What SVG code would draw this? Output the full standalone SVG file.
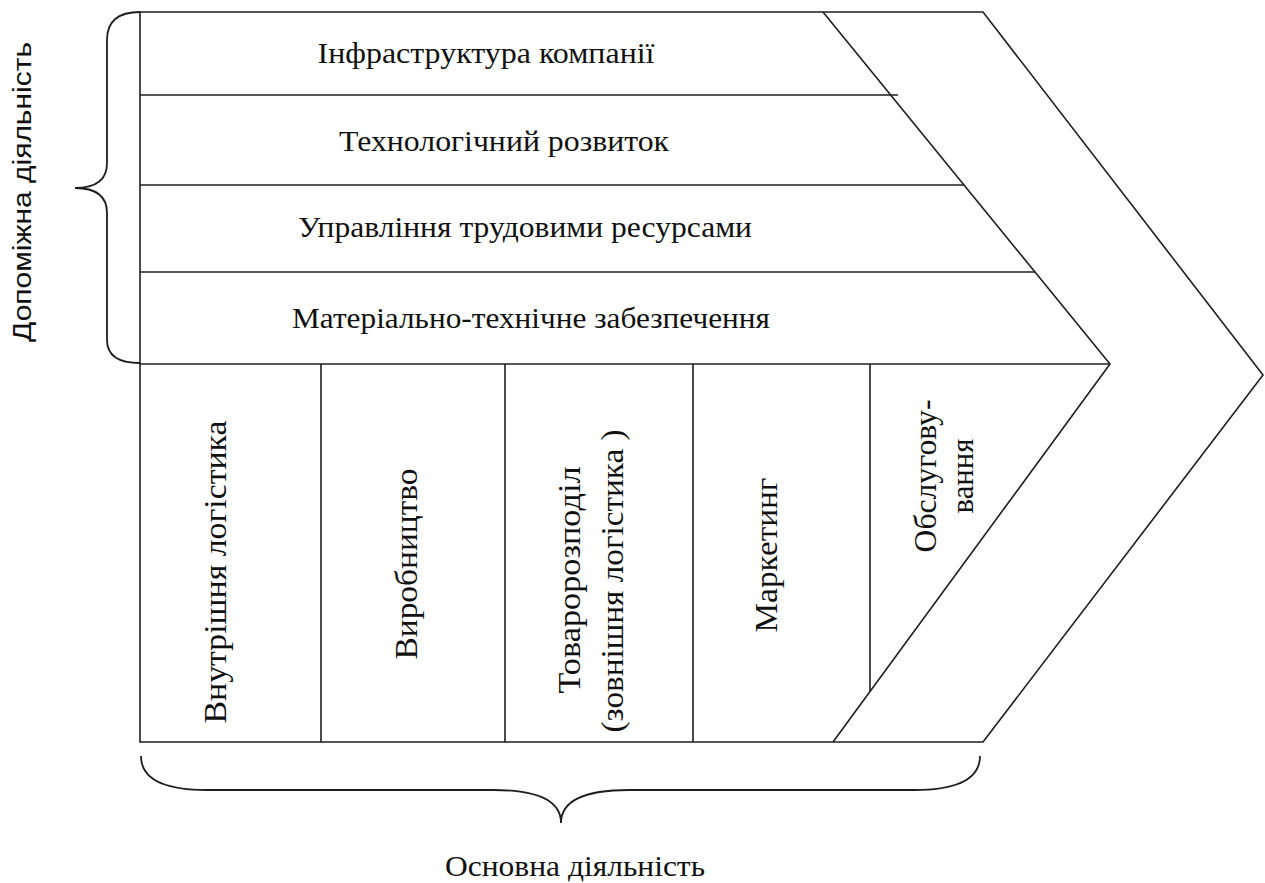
<svg xmlns="http://www.w3.org/2000/svg" width="1265" height="883" viewBox="0 0 1265 883">
<style>
.ln{fill:none;stroke:#1e1e1e;stroke-width:1.6;stroke-linecap:butt;stroke-linejoin:miter}
.br{fill:none;stroke:#1e1e1e;stroke-width:1.8}
.t{font-family:"Liberation Serif","Times New Roman",serif;font-size:30px;fill:#111;text-anchor:middle}
.v{font-family:"Liberation Serif","Times New Roman",serif;font-size:32px;fill:#111;text-anchor:middle}
.s{font-family:"Liberation Sans",Arial,sans-serif;font-size:26px;fill:#111;text-anchor:middle}
</style>
<rect width="1265" height="883" fill="#fff"/>
<g id="frame">
<path class="ln" d="M140,12 H983 L1263,375 L983,742 H140 Z"/>
<path class="ln" d="M823,12 L1110,364 L833,742"/>
</g>
<g id="support-rows">
<line class="ln" x1="140" y1="95" x2="898" y2="95"/>
<line class="ln" x1="140" y1="185" x2="964" y2="185"/>
<line class="ln" x1="140" y1="272" x2="1035" y2="272"/>
<line class="ln" x1="140" y1="364" x2="1110" y2="364"/>
</g>
<g id="primary-cols">
<line class="ln" x1="321" y1="364" x2="321" y2="742"/>
<line class="ln" x1="505" y1="364" x2="505" y2="742"/>
<line class="ln" x1="693" y1="364" x2="693" y2="742"/>
<line class="ln" x1="870" y1="364" x2="870" y2="691"/>
</g>
<g id="infra"><text class="t" x="486" y="63" textLength="337" lengthAdjust="spacingAndGlyphs">Інфраструктура компанії</text></g>
<g id="tech"><text class="t" x="504" y="151" textLength="330" lengthAdjust="spacingAndGlyphs">Технологічний розвиток</text></g>
<g id="hr"><text class="t" x="525" y="237" textLength="454" lengthAdjust="spacingAndGlyphs">Управління трудовими ресурсами</text></g>
<g id="procurement"><text class="t" x="531" y="328" textLength="478" lengthAdjust="spacingAndGlyphs">Матеріально-технічне забезпечення</text></g>
<g id="inbound"><text class="v" transform="translate(226,572) rotate(-90)" textLength="303" lengthAdjust="spacingAndGlyphs">Внутрішня логістика</text></g>
<g id="operations"><text class="v" transform="translate(417,564) rotate(-90)" textLength="191" lengthAdjust="spacingAndGlyphs">Виробництво</text></g>
<g id="outbound">
<text class="v" transform="translate(580,580) rotate(-90)" textLength="227" lengthAdjust="spacingAndGlyphs">Товаророзподіл</text>
<text class="v" transform="translate(623,581) rotate(-90)" textLength="303" lengthAdjust="spacingAndGlyphs">(зовнішня логістика )</text>
</g>
<g id="marketing"><text class="v" transform="translate(777,555) rotate(-90)" textLength="155" lengthAdjust="spacingAndGlyphs">Маркетинг</text></g>
<g id="service">
<text class="v" transform="translate(936,476) rotate(-90)" textLength="153" lengthAdjust="spacingAndGlyphs">Обслугову-</text>
<text class="v" transform="translate(973,476) rotate(-90)" textLength="75" lengthAdjust="spacingAndGlyphs">вання</text>
</g>
<g id="support-brace">
<path class="br" d="M140,12 Q107,12 107,40 V163 Q107,188 75,188 Q107,188 107,213 V340 Q107,363 140,363"/>
<text class="s" transform="translate(31,192) rotate(-90)" textLength="300" lengthAdjust="spacingAndGlyphs">Допоміжна діяльність</text>
</g>
<g id="primary-brace">
<path class="br" d="M141,756 Q141,790 207,790 H493 Q561,790 561,823 Q561,790 629,790 H914 Q980,790 980,756"/>
<text class="t" x="575" y="876" textLength="260" lengthAdjust="spacingAndGlyphs">Основна діяльність</text>
</g>
</svg>
